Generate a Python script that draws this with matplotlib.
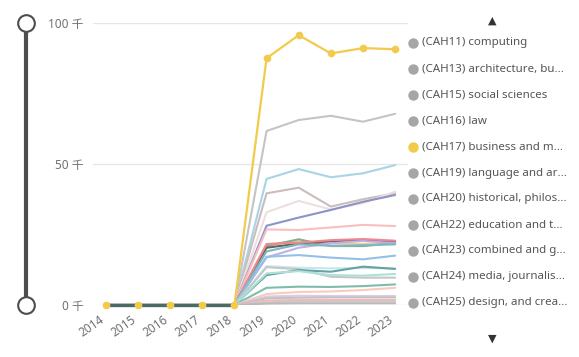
import matplotlib.pyplot as plt
import matplotlib.transforms as mtransforms
import numpy as np
from matplotlib.lines import Line2D

plt.rcParams['font.family'] = ['Noto Sans', 'Noto Sans CJK JP', 'DejaVu Sans']

W, H = 579, 357

years = ['2014', '2015', '2016', '2017', '2018', '2019', '2020', '2021', '2022', '2023']

# 強調表示のシリーズ (CAH17) business and management
business = [0, 0, 0, 0, 0, 87.5, 95.7, 89.2, 91.1, 90.7]

# 旧分類 (2014-2018 のみ)
old_series = [0, 0, 0, 0, 0, None, None, None, None, None]

# その他のシリーズ（千単位, 2019-2023）
other_values = [
    [61.7, 65.6, 67.1, 65.0, 67.8],
    [44.7, 48.2, 45.3, 46.7, 49.6],
    [39.6, 41.6, 34.9, 37.5, 39.6],
    [32.9, 36.9, 33.9, 36.1, 40.2],
    [28.1, 31.0, 33.7, 36.6, 39.0],
    [26.8, 26.6, 27.5, 28.4, 28.0],
    [21.6, 22.5, 21.9, 21.6, 22.1],
    [20.9, 23.3, 20.9, 20.9, 21.9],
    [20.3, 21.8, 22.6, 23.0, 22.5],
    [21.6, 22.1, 23.0, 23.4, 22.8],
    [16.9, 20.3, 21.9, 22.7, 21.9],
    [19.0, 21.5, 21.0, 21.2, 21.5],
    [17.1, 17.7, 16.8, 16.2, 17.5],
    [13.8, 13.2, 13.0, 13.1, 13.0],
    [13.4, 12.7, 10.0, 9.7, 9.7],
    [10.6, 12.4, 11.8, 13.6, 12.8],
    [11.2, 12.0, 10.6, 10.4, 11.0],
    [6.1, 6.5, 6.4, 6.7, 7.3],
    [3.9, 4.6, 4.8, 5.3, 6.1],
    [3.0, 3.3, 3.2, 3.2, 3.2],
    [2.4, 2.6, 2.7, 2.7, 2.7],
    [1.6, 1.8, 1.8, 1.8, 1.8],
    [1.0, 1.2, 1.2, 1.2, 1.2],
    [0.5, 0.6, 0.6, 0.6, 0.6],
]
other_colors = [
    '#c4c4c4', '#a8d4e4', '#cbbcbe', '#eedfdf', '#8c93c9', '#f7bfbf',
    '#f6d184', '#86ab90', '#626262', '#ee8890', '#bdaeec', '#7db8c0',
    '#93c0e7', '#c8e6ee', '#c6c6c6', '#66a2a4', '#ace1d6', '#80bcac',
    '#f9cbbc', '#dacbe9', '#c2c2c2', '#f8b6b6', '#cacaca', '#bababa',
]

legend_names = [
    '(CAH11) computing',
    '(CAH13) architecture, bu...',
    '(CAH15) social sciences',
    '(CAH16) law',
    '(CAH17) business and m...',
    '(CAH19) language and ar...',
    '(CAH20) historical, philos...',
    '(CAH22) education and t...',
    '(CAH23) combined and g...',
    '(CAH24) media, journalis...',
    '(CAH25) design, and crea...',
]
highlighted = '(CAH17) business and m...'

yellow = '#f2cb4c'


def fx(px):
    return px / W


def fy(py):
    return 1 - py / H


fig = plt.figure(figsize=(W / 100, H / 100), dpi=100)
ax = fig.add_axes([fx(93), fy(305), (408 - 93) / W, (305 - 23) / H])

x = np.arange(len(years))
for vals, c in zip(other_values, other_colors):
    y = np.array([0, 0, 0, 0, 0] + vals) * 1000
    ax.plot(x, y, color=c, lw=1.5, zorder=2, solid_capstyle='round')

ax.plot(x, np.array(business) * 1000, color=yellow, lw=1.6, zorder=3)
old = np.array([np.nan if v is None else v for v in old_series], dtype=float)
ax.plot(x, old * 1000, color='#4b6a66', lw=2.4, zorder=4, clip_on=False)
ax.plot(x, np.array(business) * 1000, ls='none', marker='o', ms=4.5,
        color=yellow, zorder=5, clip_on=False)

ax.set_xlim(-0.4, 9.4)
ax.set_ylim(0, 100000)
ax.set_yticks([0, 50000, 100000])
ax.set_yticklabels(['0 千', '50 千', '100 千'], color='#707070', fontsize=8.5)
ax.set_xticks(x)
ax.set_xticklabels(years, rotation=35, ha='right', rotation_mode='anchor',
                   color='#707070', fontsize=8.5)
ax.tick_params(axis='y', length=0, pad=7)
ax.tick_params(axis='x', length=0, pad=6)
shift = mtransforms.ScaledTranslation(-7 / 100, 0, fig.dpi_scale_trans)
for lab in ax.get_xticklabels():
    lab.set_transform(lab.get_transform() + shift)
ax.grid(axis='y', color='#e6e6e6', lw=1)
ax.set_axisbelow(True)
for s in ax.spines.values():
    s.set_visible(False)

# 左側のスライダー
fig.add_artist(Line2D([fx(26), fx(26)], [fy(23), fy(305)], color='#4d4d4d',
                      lw=3, transform=fig.transFigure, zorder=1))
for py in (23, 305):
    fig.add_artist(Line2D([fx(26)], [fy(py)], marker='o', ms=12, mfc='white',
                          mec='#4d4d4d', mew=1.5, transform=fig.transFigure,
                          zorder=2))

# 凡例
for i, name in enumerate(legend_names):
    py = 43 + i * 26
    c = yellow if name == highlighted else '#a6a6a6'
    fig.add_artist(Line2D([fx(413)], [fy(py)], marker='o', ms=6.5, color=c,
                          transform=fig.transFigure))
    fig.text(fx(421.5), fy(py), name, fontsize=8.3, color='#555555',
             va='center', ha='left')
fig.text(fx(492), fy(21), '▲', fontsize=8, color='#333333', ha='center',
         va='center', family='DejaVu Sans')
fig.text(fx(492), fy(339), '▼', fontsize=8, color='#333333', ha='center',
         va='center', family='DejaVu Sans')

fig.savefig('out.png', dpi=100)
